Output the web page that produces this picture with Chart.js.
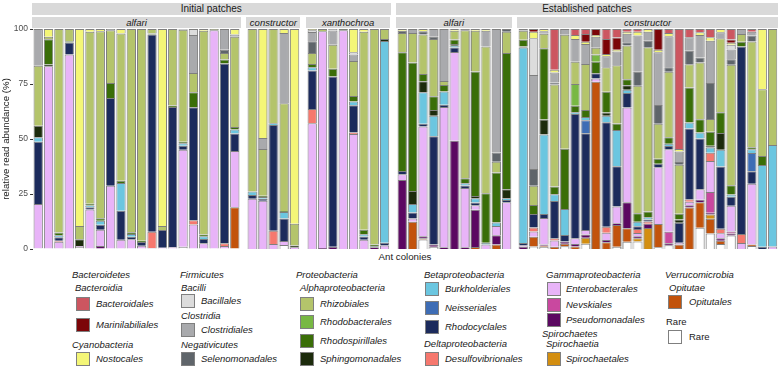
<!DOCTYPE html>
<html>
<head>
<meta charset="utf-8">
<script src="https://cdn.jsdelivr.net/npm/chart.js@4.4.0/dist/chart.umd.min.js"></script>
<style>
  body { margin: 0; background: #fff; width: 780px; height: 366px; position: relative; overflow: hidden;
         font-family: "Liberation Sans", Arial, sans-serif; color: #1a1a1a; }
  .box { position: absolute; }
  .strip { position: absolute; background: #d9d9d9; text-align: center; white-space: nowrap; }
  .outer { font-size: 10px; line-height: 12px; }
  .inner { font-size: 9.5px; line-height: 11px; font-style: italic; }
  .lg { position: absolute; font-size: 9.5px; line-height: 12px; font-style: italic; white-space: nowrap; }
  .sw { position: absolute; width: 12px; height: 12px; border: 1px solid #7f7f7f; box-sizing: content-box; }
</style>
</head>
<body>
<div class="lg" style="left:305px;width:200px;text-align:center;top:251px;font-style:normal;font-size:9.7px">Ant colonies</div>
<script>
// order keys, top of stack first (same as legend order)
const orderKeys = ['Bac', 'Mar', 'Nos', 'Bcl', 'Clo', 'Sel', 'Rhi', 'Rhb', 'Rsp', 'Sph',
                   'Bur', 'Nei', 'Rcy', 'Des', 'Ent', 'Nev', 'Pse', 'Spi', 'Opi', 'Rare'];
const orderNames = ['Bacteroidales', 'Marinilabiliales', 'Nostocales', 'Bacillales', 'Clostridiales',
                    'Selenomonadales', 'Rhizobiales', 'Rhodobacterales', 'Rhodospirillales', 'Sphingomonadales',
                    'Burkholderiales', 'Neisseriales', 'Rhodocyclales', 'Desulfovibrionales', 'Enterobacterales',
                    'Nevskiales', 'Pseudomonadales', 'Spirochaetales', 'Opitutales', 'Rare'];
const orderColors = ['#cc5660', '#7c0508', '#f4f677', '#dcdcdc', '#a9aaad', '#5f656a', '#b4c46b', '#78b843',
                     '#3a6e08', '#1c2b0c', '#6bc6e0', '#3e6db5', '#1c2b5c', '#f6786e', '#e8b4f8', '#c9489f',
                     '#5b0861', '#d38e10', '#c2530c', '#ffffff'];

// relative abundance (%) per colony, one object per bar
const initAlfari = [
  {Clo:16.7, Rhi:27.3, Sph:5.2, Bur:2, Rcy:28.4, Ent:20.1, Pse:0.3},
  {Nos:3.5, Rhi:1.2, Rsp:11.4, Sph:0.8, Ent:83.1},
  {Rhi:92.5, Rsp:1.2, Bur:1, Rcy:1.5, Des:0.5, Ent:3.3},
  {Rhi:5.6, Rsp:0.5, Rcy:5.5, Ent:88.4},
  {Nos:89.6, Rhi:6, Sph:3, Ent:0.5, Rare:0.9},
  {Nos:1.2, Rhi:78.2, Rsp:0.8, Bur:0.8, Rcy:1, Ent:18},
  {Nos:1, Rhi:84.8, Rsp:1.2, Bur:1.8, Rcy:2.3, Ent:7.3, Pse:1.4},
  {Clo:0.6, Rhi:24, Rsp:6.8, Rcy:39.8, Ent:28.8},
  {Nos:2, Rhi:67, Rsp:1, Bur:12.6, Rcy:13.2, Ent:4.2},
  {Rhi:92.4, Rsp:0.8, Bur:1.2, Rcy:1.2, Ent:4.4},
  {Rhi:96.2, Rsp:0.6, Rcy:1.7, Ent:1.5},
  {Rhi:2, Rsp:0.5, Rcy:89.7, Des:7.3, Ent:0.5},
  {Nos:89.6, Rhi:1.8, Rcy:8, Ent:0.6},
  {Rhi:34.8, Rsp:0.6, Rcy:63.8, Ent:0.8},
  {Clo:0.3, Rhi:51, Rsp:0.6, Bur:1.2, Rcy:1.8, Ent:44.1, Rare:1},
  {Bcl:2.7, Clo:17.3, Rhi:8.8, Rsp:6.8, Rcy:51.3, Des:2, Ent:11.1},
  {Nos:0.8, Rhi:92.6, Rsp:0.8, Bur:1.2, Rcy:2, Ent:2.6},
  {Rhi:0.6, Ent:99.4},
  {Clo:9.4, Sel:1.5, Rhi:3, Rsp:1.8, Rcy:81.7, Des:1.2, Ent:1.4},
  {Nos:2.5, Clo:1, Rhi:41, Rsp:1.2, Bur:1.8, Rcy:8, Ent:25.5, Opi:19}
];
const initConstructor = [
  {Rhi:73.9, Bur:1.5, Rcy:1.8, Ent:22.8},
  {Nos:49.6, Clo:5, Rhi:21.2, Rsp:0.6, Bur:0.8, Rcy:0.9, Ent:21.9},
  {Rhi:42.8, Bur:0.8, Rcy:48.1, Des:6, Ent:2.3},
  {Nos:1.8, Clo:31.9, Rhi:49, Rsp:0.5, Bur:2.9, Rcy:10.3, Ent:1.8, Rare:1.8},
  {Nos:88.5, Rhi:9.9, Sph:0.8, Ent:0.8}
];
const initXanthochroa = [
  {Nos:0.6, Bcl:0.8, Clo:4.2, Sel:5.3, Rhi:5, Rsp:1.5, Bur:1.5, Rcy:17.5, Des:6.4, Ent:57.2},
  {Rhi:1, Ent:98.6, Pse:0.4},
  {Bcl:0.7, Clo:6.5, Rhi:10.9, Rsp:3.5, Rcy:77.4, Pse:1},
  {Sph:0.6, Ent:99.4},
  {Nos:10.6, Bcl:1, Clo:3, Rhi:15.9, Rsp:2.4, Bur:1.8, Rcy:12.4, Des:0.6, Ent:52.3},
  {Nos:1.2, Rhi:90.1, Rsp:2, Bur:1, Rcy:1.5, Ent:4.2},
  {Rhi:97.9, Rsp:0.8, Rcy:0.5, Pse:0.8},
  {Rhi:4.6, Sph:0.8, Bur:91.8, Rcy:1.2, Ent:1.6}
];
const estAlfari = [
  {Nos:0.8, Sel:1, Rhi:8.8, Rsp:53.9, Rcy:1.5, Ent:2.6, Pse:31.4},
  {Clo:1.8, Rhi:13.4, Rsp:58.4, Sph:6, Bur:3.8, Rcy:2.7, Ent:1.5, Opi:12.4},
  {Nos:1, Sel:1.5, Rhi:17.9, Rsp:3.3, Sph:5, Bur:14.4, Rcy:1.2, Ent:49.9, Pse:0.9, Opi:0.6, Rare:4.3},
  {Clo:3.5, Sel:1, Rhi:26.1, Rsp:6.2, Sph:2.6, Bur:9.4, Rcy:49.2, Pse:1, Rare:1},
  {Clo:23.6, Rhi:1.8, Rsp:3, Bur:6, Rcy:1, Ent:63.8, Pse:0.8},
  {Nos:0.8, Rhi:4, Rsp:2, Sph:0.8, Bur:0.8, Rcy:2, Ent:40.4, Pse:49.2},
  {Sel:0.6, Rhi:67.2, Rsp:2.3, Bur:1, Rcy:1.2, Ent:26.9, Pse:0.8},
  {Nos:0.8, Rhi:18.5, Rsp:56.6, Sph:1, Bur:2, Rcy:1.2, Ent:2.1, Pse:16.9, Opi:0.9},
  {Nos:0.8, Clo:7.1, Rhi:66.8, Rsp:22.5, Bur:0.8, Ent:2},
  {Clo:56.1, Sel:4.2, Rhi:4.9, Rsp:22.8, Bur:1.5, Ent:4.2, Pse:4.3, Opi:2},
  {Sel:1.3, Rhi:9.6, Rsp:61.9, Sph:4.1, Bur:0.8, Rcy:1, Ent:21.3}
];
const estConstructor = [
  {Clo:0.8, Rhi:4.1, Rsp:3, Sph:0.5, Bur:88.9, Rcy:1.1, Ent:0.6, Pse:1},
  {Mar:1.2, Nos:3, Bcl:16.7, Clo:42.7, Sel:7.6, Rhi:8.8, Rsp:4.1, Rcy:6.1, Des:1.8, Ent:2.4, Opi:4.5, Rare:1.1},
  {Nos:1, Clo:1.2, Rhi:6.5, Rsp:32.4, Sph:6.8, Bur:36.2, Rcy:1.8, Ent:12.1, Pse:0.5, Opi:0.5, Rare:1},
  {Bac:18.5, Nos:1.2, Clo:4.5, Sel:1, Rhi:46.2, Rsp:3.5, Bur:3, Rcy:16.9, Des:1, Ent:2.9, Opi:1},
  {Clo:2.6, Rhi:51.7, Rsp:27.3, Bur:11.7, Rcy:3, Pse:1, Opi:1.2, Rare:1.2},
  {Bac:2.7, Nos:1.8, Clo:10.3, Rhi:10.2, Rhb:9.8, Rsp:3, Bur:0.8, Rcy:56.3, Ent:2.6, Pse:1.2, Opi:1.1},
  {Bac:2.3, Mar:3.5, Nos:1, Clo:9.1, Rhi:20.8, Rsp:3.2, Bur:1.5, Nei:5.9, Rcy:43.9, Ent:2, Pse:1.5, Spi:2.7, Rare:2.4},
  {Mar:2.7, Nos:0.8, Clo:5, Rhi:3, Rhb:3.3, Rsp:5.3, Rcy:2.3, Ent:1.5, Opi:75.8},
  {Bac:4.5, Mar:6.8, Nos:1, Clo:5, Rhi:11.1, Rsp:9.4, Sph:1.5, Bur:3, Rcy:47.3, Des:2.7, Ent:3.3, Pse:1, Opi:3.1},
  {Bac:3.8, Mar:5.6, Nos:0.8, Clo:6.2, Rhi:26.4, Rsp:3, Bur:16.4, Rcy:18.2, Ent:7.6, Pse:0.8, Opi:9.9, Rare:1},
  {Bac:1.2, Nos:1, Clo:3.8, Sel:1.5, Rhi:15.2, Rsp:2.7, Sph:2.1, Bur:1.5, Rcy:6.5, Ent:42.9, Pse:11.7, Opi:6.1, Rare:3.3},
  {Bac:1.2, Nos:1.8, Clo:16.4, Sel:6.4, Rhi:57.9, Rsp:3.9, Bur:2.1, Rcy:1.2, Des:1.8, Ent:1.5, Pse:0.9, Spi:1.5, Rare:3.4},
  {Nos:1.2, Clo:4.1, Sel:3, Rhi:74.7, Rsp:2.6, Bur:1, Rcy:0.9, Des:1, Pse:2, Spi:9.5},
  {Mar:9.4, Nos:1.2, Clo:23.9, Sel:8.6, Rhi:15.9, Rsp:2.3, Rcy:1.5, Ent:25.8, Opi:10.6, Rare:0.8},
  {Bac:1.8, Nos:1.5, Clo:14.1, Sel:2, Rhi:29.8, Rsp:3, Bur:1, Rcy:1.5, Ent:37.5, Nev:5.2, Pse:0.9, Rare:1.7},
  {Bac:54.5, Nos:1.2, Clo:4.8, Sel:1.2, Rhi:22.3, Rsp:2.6, Sph:1.5, Rcy:9.1, Ent:0.7, Opi:2.1},
  {Bac:3.8, Clo:6.1, Sel:6.1, Rhi:10.6, Rsp:15.9, Bur:2.7, Rcy:32.1, Des:1.2, Ent:1.5, Pse:1, Opi:18.9},
  {Bac:1.5, Nos:1.2, Clo:10.2, Sel:2.3, Rhi:25.8, Rsp:6.1, Bur:2.7, Rcy:23, Ent:4.8, Pse:1.2, Opi:11.5, Rare:9.7},
  {Bac:3.8, Nos:1.5, Clo:19.2, Sel:16.4, Rhi:5.8, Rsp:6.4, Sph:0.8, Bur:2.3, Des:3.8, Ent:14.1, Nev:9.4, Pse:0.8, Spi:2, Opi:6.7, Rare:7},
  {Nos:1.5, Clo:2.7, Rhi:33.6, Rsp:9.5, Sph:7.6, Bur:7.6, Rcy:28.3, Des:2, Ent:2.3, Pse:1.2, Opi:1.4, Rare:2.3},
  {Bac:4.8, Mar:1.5, Nos:0.9, Bcl:2.1, Clo:4.5, Sel:2.4, Rhi:54.8, Rsp:4.2, Bur:1, Rcy:4.1, Ent:11.8, Nev:0.8, Pse:1, Rare:6.1},
  {Clo:2.3, Rhi:3.5, Rsp:2.1, Rcy:85.3, Des:4.1, Ent:2.7},
  {Bac:1.2, Clo:1.8, Sel:2.7, Rhi:48, Rsp:1, Bur:1.7, Nei:8.3, Rcy:5.6, Ent:27.7, Opi:0.6, Rare:1.4},
  {Nos:27.4, Rhi:30.3, Rsp:4.1, Bur:37.2, Rcy:1},
  {Rhi:52.7, Bur:46.2, Ent:1.1}
];

const facets = [
  {group: 'Initial patches', species: 'alfari', rows: initAlfari},
  {group: 'Initial patches', species: 'constructor', rows: initConstructor},
  {group: 'Initial patches', species: 'xanthochroa', rows: initXanthochroa},
  {group: 'Established patches', species: 'alfari', rows: estAlfari},
  {group: 'Established patches', species: 'constructor', rows: estConstructor}
];

// legend: headers (x, y = text centre) and keys (x = swatch left, y = swatch top, tx = text left)
const legendHeads = [
  ['Bacteroidetes', 72, 275], ['Bacteroidia', 75, 288], ['Cyanobacteria', 72, 345],
  ['Firmicutes', 180, 275], ['Bacilli', 181, 288], ['Clostridia', 181, 316], ['Negativicutes', 181, 345],
  ['Proteobacteria', 296, 275], ['Alphaproteobacteria', 300, 288],
  ['Betaproteobacteria', 424, 275], ['Deltaproteobacteria', 424, 344],
  ['Gammaproteobacteria', 546, 275], ['Spirochaetes', 542, 334], ['Spirochaetia', 546, 344],
  ['Verrucomicrobia', 665, 275], ['Opitutae', 669, 288]
];
const legendKeys = [
  ['Bac', 76, 297, 96], ['Mar', 76, 318, 96], ['Nos', 76, 352, 96],
  ['Bcl', 181, 294, 201], ['Clo', 181, 323, 201], ['Sel', 181, 352, 201],
  ['Rhi', 300, 297, 320], ['Rhb', 300, 315, 320], ['Rsp', 300, 334, 320], ['Sph', 300, 352, 320],
  ['Bur', 425, 282, 445], ['Nei', 425, 301, 445], ['Rcy', 425, 320, 445], ['Des', 425, 352, 445],
  ['Ent', 547, 282, 566], ['Nev', 547, 298, 566], ['Pse', 547, 313, 566], ['Spi', 547, 352, 566],
  ['Opi', 668, 295, 689], ['Rare', 668, 330, 689]
];

// ---- layout ----
const plotLeft = 32, plotRight = 778, plotTop = 29, plotBottom = 249, panelGap = 5.4;
const units = facets.reduce((s, f) => s + f.rows.length + 0.2, 0);
const unit = (plotRight - plotLeft - panelGap * (facets.length - 1)) / units;

function addDiv(cls, text, css) {
  const d = document.createElement('div');
  d.className = cls;
  d.textContent = text;
  Object.assign(d.style, css);
  document.body.appendChild(d);
  return d;
}

let x = plotLeft;
const groupSpan = {};
facets.forEach((f, i) => {
  const w = (f.rows.length + 0.2) * unit;
  f.left = x; f.right = x + w;
  x += w + panelGap;
  if (!groupSpan[f.group]) groupSpan[f.group] = [f.left, f.right];
  groupSpan[f.group][1] = f.right;
  addDiv('strip inner', f.species, {left: f.left + 'px', width: w + 'px', top: '17px', height: '10.5px'});
});
Object.keys(groupSpan).forEach(g => {
  const [l, r] = groupSpan[g];
  addDiv('strip outer', g, {left: l + 'px', width: (r - l) + 'px', top: '3px', height: '12px'});
});

legendHeads.forEach(([t, lx, ly]) => addDiv('lg', t, {left: lx + 'px', top: (ly - 6) + 'px'}));
legendKeys.forEach(([k, sx, sy, tx]) => {
  const idx = orderKeys.indexOf(k);
  addDiv('sw', '', {left: sx + 'px', top: sy + 'px', background: orderColors[idx]});
  addDiv('lg', orderNames[idx], {left: tx + 'px', top: (sy + 0.5) + 'px', fontStyle: k === 'Rare' ? 'normal' : 'italic'});
});
addDiv('lg', 'Rare', {left: '666px', top: '316px', fontStyle: 'normal'});

// ---- charts ----
const padV = 10;
facets.forEach((f, i) => {
  const first = i === 0;
  const inset = 0.1 * unit;
  const boxLeft = first ? 0 : f.left;
  const boxW = f.right - boxLeft;
  const box = addDiv('box', '', {left: boxLeft + 'px', top: (plotTop - padV) + 'px',
                                  width: boxW + 'px', height: (plotBottom - plotTop + 2 * padV) + 'px'});
  const cv = document.createElement('canvas');
  box.appendChild(cv);

  const sums = f.rows.map(r => orderKeys.reduce((s, k) => s + (r[k] || 0), 0));
  const datasets = orderKeys.slice().reverse().map(k => {
    const idx = orderKeys.indexOf(k);
    return {
      label: orderNames[idx],
      data: f.rows.map((r, j) => r[k] ? r[k] / sums[j] * 100 : null),
      backgroundColor: orderColors[idx],
      borderColor: '#7f7f7f',
      borderWidth: 1,
      categoryPercentage: 0.9,
      barPercentage: 1
    };
  });

  new Chart(cv, {
    type: 'bar',
    data: {labels: f.rows.map((r, j) => String(j + 1)), datasets},
    options: {
      responsive: true,
      maintainAspectRatio: false,
      animation: false,
      devicePixelRatio: 1,
      layout: {padding: {top: padV, bottom: padV, left: first ? 0 : inset, right: inset}},
      plugins: {legend: {display: false}, tooltip: {enabled: false}},
      scales: {
        x: {stacked: true, display: false},
        y: {
          stacked: true,
          display: first,
          min: 0,
          max: 100,
          afterFit: s => { if (first) s.width = plotLeft + inset; },
          ticks: {stepSize: 25, color: '#4d4d4d', padding: 2, font: {size: 8.5, family: 'Liberation Sans'}},
          grid: {drawOnChartArea: false, drawTicks: true, tickLength: 3, tickColor: '#333333'},
          border: {display: false},
          title: {display: true, text: 'relative read abundance (%)', color: '#1a1a1a',
                  padding: {top: 1, bottom: 0}, font: {size: 9.7, family: 'Liberation Sans'}}
        }
      }
    }
  });
});
</script>
</body>
</html>
